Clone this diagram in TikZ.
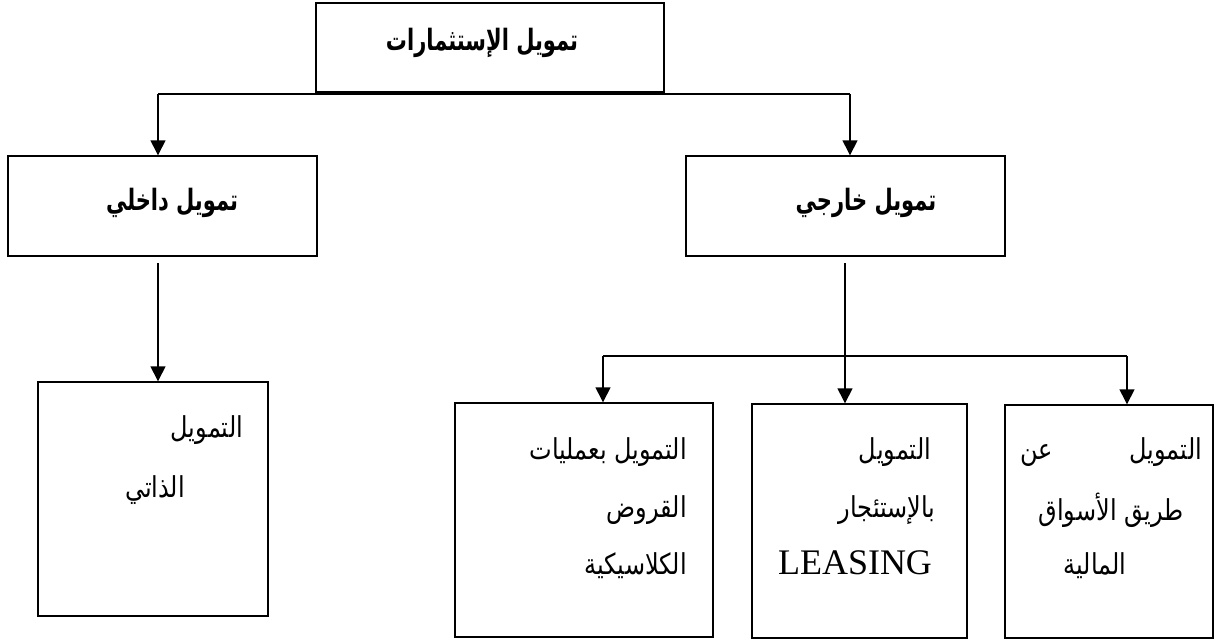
\documentclass[tikz,border=0pt]{standalone}
\usepackage{fontspec}
\usepackage{graphicx}
\usetikzlibrary{arrows.meta}
\TeXXeTstate=1
\newfontfamily\arabicfont[Script=Arabic]{DejaVu Sans}
\newfontfamily\latinserif{Liberation Serif}
\newcommand{\artitle}[1]{\scalebox{1}[1.4]{\arabicfont\bfseries\fontsize{21}{24}\selectfont\beginR #1\endR}}
\newcommand{\arbody}[1]{\scalebox{1}[1.2]{\arabicfont\fontsize{24}{28}\selectfont\beginR #1\endR}}
\tikzset{
  boxnode/.style={draw, line width=1.4pt, inner sep=0pt},
  txt/.style={inner sep=0pt},
  conn/.style={line width=1.4pt},
  arr/.style={line width=1.4pt, -{Triangle[width=15pt,length=15pt]}}
}
\begin{document}
\begin{tikzpicture}[x=1pt,y=-1pt]
\useasboundingbox (0,0) rectangle (1215,640);
% boxes
\node[boxnode, minimum width=348pt, minimum height=89pt] (top) at (490,47.5) {};
\node[boxnode, minimum width=309pt, minimum height=100pt] (lbox) at (162.5,206) {};
\node[boxnode, minimum width=319pt, minimum height=100pt] (rbox) at (845.5,206) {};
\node[boxnode, minimum width=230pt, minimum height=234pt] (lb) at (153,499) {};
\node[boxnode, minimum width=258pt, minimum height=234pt] (ba) at (584,520) {};
\node[boxnode, minimum width=215pt, minimum height=234pt] (bb) at (859.5,521) {};
\node[boxnode, minimum width=208pt, minimum height=233pt] (bc) at (1109,521.5) {};
% titles
\node[txt] (ttop) at (482,43) {\artitle{تمويل الإستثمارات}};
\node[txt] (tl) at (172,203) {\artitle{تمويل داخلي}};
\node[txt] (tr) at (866,203) {\artitle{تمويل خارجي}};
% left bottom box text
\node[txt] (l1) at (207,430) {\arbody{التمويل}};
\node[txt] (l2) at (155,490) {\arbody{الذاتي}};
% box A
\node[txt, anchor=east] (a1) at (687,452) {\arbody{التمويل بعمليات}};
\node[txt, anchor=east] (a2) at (687,510) {\arbody{القروض}};
\node[txt, anchor=east] (a3) at (687,566) {\arbody{الكلاسيكية}};
% box B
\node[txt] (b1) at (895,452) {\arbody{التمويل}};
\node[txt] (b2) at (887,510) {\arbody{بالإستئجار}};
\node[txt, font=\latinserif\fontsize{36}{40}\selectfont] (b3) at (855,563) {LEASING};
% box C
\node[txt] (c1) at (1111,452) {\scalebox{1}[1.2]{\arabicfont\fontsize{24}{28}\selectfont\hbox to 182pt{\beginR التمويل\hfill عن\endR}}};
\node[txt] (c2) at (1111,510) {\arbody{طريق الأسواق}};
\node[txt] (c3) at (1095,566) {\arbody{المالية}};
% connectors
\coordinate (j1) at (158,94);
\coordinate (j2) at (850,94);
\draw[conn] (j1) -- (j2);
\draw[arr] (j1) -- (j1 |- lbox.north);
\draw[arr] (j2) -- (j2 |- rbox.north);
\coordinate (s1) at (158,263);
\draw[arr] (s1) -- (s1 |- lb.north);
\coordinate (s2) at (845,263);
\draw[arr] (s2) -- (s2 |- bb.north);
\coordinate (h1) at (603,356);
\coordinate (h2) at (1127,356);
\draw[conn] (h1) -- (h2);
\draw[arr] (h1) -- (h1 |- ba.north);
\draw[arr] (h2) -- (h2 |- bc.north);
\end{tikzpicture}
\end{document}
